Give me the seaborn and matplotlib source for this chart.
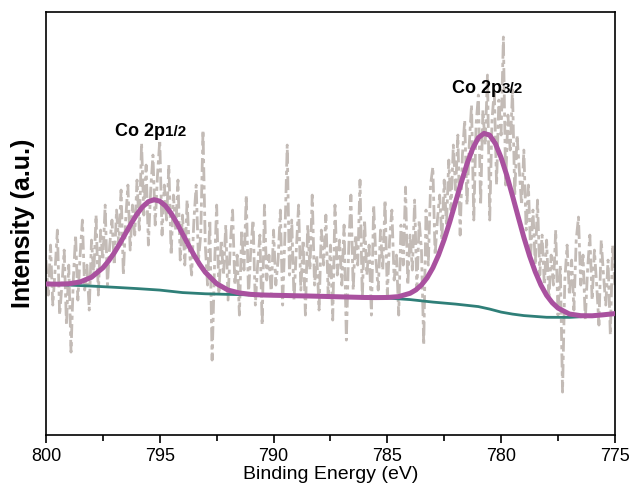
import numpy as np
import pandas as pd
import matplotlib
matplotlib.use("Agg")
import matplotlib.pyplot as plt
import seaborn as sns

# ---------------- data ----------------
raw_energy = np.round(np.linspace(800, 775, 251), 1)
raw_intensity = [
    175, 140, 190, 130, 165, 205, 120, 150, 185, 110,
    170, 83, 155, 200, 135, 180, 215, 145, 170, 125,
    195, 160, 220, 140, 205, 175, 230, 150, 190, 215,
    170, 225, 190, 245, 160, 215, 250, 185, 230, 200,
    255, 205, 292, 220, 270, 190, 245, 280, 210, 260,
    295, 200, 250, 215, 270, 180, 240, 205, 255, 175,
    220, 170, 235, 185, 160, 215, 250, 175, 200, 305,
    190, 150, 215, 75, 165, 230, 140, 195, 160, 210,
    135, 190, 225, 150, 180, 120, 205, 165, 240, 140,
    185, 215, 130, 170, 200, 110, 230, 155, 180, 140,
    205, 150, 175, 225, 130, 200, 290, 160, 215, 135,
    185, 230, 145, 195, 120, 210, 165, 240, 150, 180,
    125, 205, 170, 220, 140, 190, 115, 230, 160, 195,
    150, 210, 95, 185, 240, 145, 200, 170, 255, 135,
    215, 160, 190, 120, 230, 175, 145, 205, 165, 235,
    140, 195, 225, 155, 180, 120, 210, 170, 248, 150,
    200, 165, 235, 145, 215, 185, 90, 225, 170, 250,
    268, 180, 215, 240, 195, 255, 210, 275, 225, 290,
    245, 300, 200, 280, 315, 230, 290, 330, 215, 310,
    340, 230, 325, 290, 360, 215, 315, 345, 250, 335,
    300, 398, 250, 320, 285, 345, 240, 300, 265, 230,
    285, 205, 250, 180, 225, 170, 235, 160, 200, 150,
    195, 135, 180, 150, 205, 120, 170, 43, 155, 190,
    140, 175, 125, 195, 218, 150, 180, 115, 165, 200,
    135, 185, 150, 110, 195, 160, 130, 175, 100, 190,
    150,
]

fit_energy = [800, 799.5, 799, 798.5, 798, 797.5,
              797.25, 797, 796.75, 796.5, 796.25, 796, 795.75, 795.5, 795.25,
              795, 794.75, 794.5, 794.25, 794, 793.75, 793.5, 793.25, 793,
              792.5, 792, 791.5, 791, 790.5, 790, 789.5, 789, 788.5, 788,
              787.5, 787, 786.5, 786, 785.5, 785, 784.5, 784,
              783.75, 783.5, 783.25, 783, 782.75, 782.5, 782.25, 782, 781.75,
              781.5, 781.25, 781, 780.75, 780.5, 780.25, 780, 779.75, 779.5,
              779.25, 779, 778.75, 778.5, 778.25, 778, 777.75, 777.5,
              777, 776.5, 776, 775.5, 775]
fit_intensity = [151.1, 150.9, 151.3, 153.1, 157.8, 167.2,
                 174.1, 182.3, 191.7, 201.8, 211.8, 221.0, 228.4, 233.4, 235.4,
                 233.9, 229.2, 221.7, 212.0, 201.3, 190.5, 180.2, 170.8, 162.8,
                 151.4, 145.0, 142.1, 140.7, 140.1, 139.8, 139.6, 139.3, 139.1, 138.8,
                 138.5, 138.2, 137.9, 137.6, 137.5, 137.6, 138.5, 141.8,
                 145.1, 150.1, 157.3, 167.2, 180.0, 195.6, 213.6, 233.1, 252.7,
                 271.1, 286.4, 297.3, 301.7, 299.8, 291.4, 277.4, 259.7, 239.3,
                 218.3, 197.7, 179.2, 163.3, 150.0, 139.7, 132.3, 127.0,
                 121.1, 119.4, 119.3, 120.3, 121.5]

bg_energy = [800, 799, 798, 797, 796, 795, 794, 793, 792, 791, 790, 789, 788,
             787, 786, 785, 784, 783, 782, 781, 780.5, 780, 779.5, 779, 778,
             777, 776, 775]
bg_intensity = [151, 150, 149, 147.8, 146.5, 145, 142.5, 141.3, 140.7, 140.2,
                139.8, 139.3, 138.8, 138.2, 137.6, 137, 135.5, 133, 131, 128.5,
                126, 123, 121, 119.5, 117.8, 117.7, 119, 121.5]

x_ticks = [800, 795, 790, 785, 780, 775]
peak_labels = [("Co 2p", "1/2", 794.79, 299.5), ("Co 2p", "3/2", 779.97, 341.7)]

# ---------------- plot ----------------
sns.set_style("white")
plt.rcParams["font.family"] = ["Liberation Sans", "DejaVu Sans"]
plt.rcParams["text.color"] = "black"
plt.rcParams["axes.labelcolor"] = "black"
plt.rcParams["xtick.color"] = "black"

fig = plt.figure(figsize=(6.3, 4.9), dpi=100)
ax = fig.add_axes([0.073, 0.112, 0.903, 0.8635])

raw_df = pd.DataFrame({"E": raw_energy, "I": raw_intensity})
fit_df = pd.DataFrame({"E": fit_energy, "I": fit_intensity})
bg_df = pd.DataFrame({"E": bg_energy, "I": bg_intensity})

sns.lineplot(data=raw_df, x="E", y="I", ax=ax, color="#c3bbb6", linewidth=2.0,
             linestyle=(0, (5, 1.5, 1.5, 1.5)), estimator=None, sort=False, zorder=1)
sns.lineplot(data=bg_df, x="E", y="I", ax=ax, color="#2f7f78", linewidth=2.0,
             estimator=None, sort=False, zorder=2)
sns.lineplot(data=fit_df, x="E", y="I", ax=ax, color="#a9519f", linewidth=3.6,
             estimator=None, sort=False, zorder=3)

ax.set_xlim(800, 775)
ax.set_ylim(0, 423)
ax.set_xticks(x_ticks)
ax.set_xticklabels([str(t) for t in x_ticks])
ax.set_xticks([797.5, 792.5, 787.5, 782.5, 777.5], minor=True)
ax.set_yticks([])
ax.tick_params(axis="x", which="major", direction="out", length=6, width=1.2,
               labelsize=13, pad=3, bottom=True, colors="black")
ax.tick_params(axis="x", which="minor", direction="out", length=4, width=1.2,
               bottom=True, colors="black")
for s in ax.spines.values():
    s.set_linewidth(1.2)
    s.set_color("black")

ax.set_xlabel("Binding Energy (eV)", fontsize=14, labelpad=1, color="black")
ax.set_ylabel("Intensity (a.u.)", fontsize=18, fontweight="bold", labelpad=8,
              color="black")

for main, sub, xe, yi in peak_labels:
    ax.text(xe, yi, main, fontsize=13, fontweight="bold", ha="right",
            va="baseline", zorder=5, color="black")
    ax.text(xe, yi, sub, fontsize=11, fontweight="bold", ha="left",
            va="baseline", zorder=5, color="black")

fig.savefig("out.png", dpi=100)
